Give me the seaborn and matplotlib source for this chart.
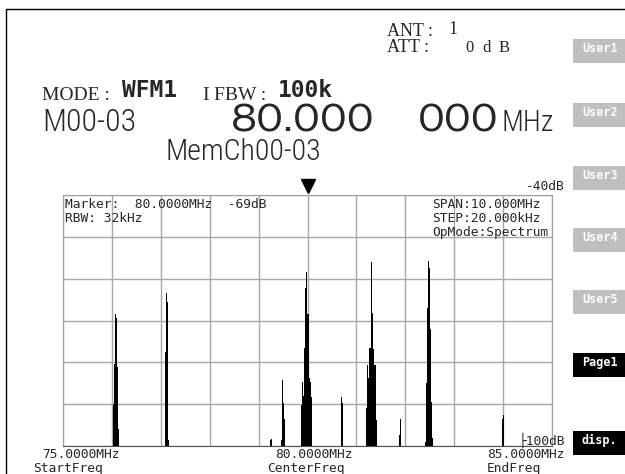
import numpy as np
import matplotlib
matplotlib.use('Agg')
import matplotlib.pyplot as plt
import matplotlib.transforms as mtransforms
import seaborn as sns
from matplotlib import font_manager
from matplotlib.patches import Rectangle
from matplotlib.lines import Line2D

# sweep settings
freq_start = 75.0
freq_stop = 85.0
freq_step = 0.02
ref_level = -40
floor_level = -100
marker_freq = 80.0

# spectrum points above the noise floor (MHz, dB)
peak_freqs = [76.04, 76.06, 76.08, 76.10, 76.12, 76.14,
              77.10, 77.12, 77.14, 77.16,
              79.24, 79.26,
              79.46, 79.48, 79.50, 79.52,
              79.88, 79.90, 79.92, 79.94, 79.96, 79.98, 80.00, 80.02, 80.04, 80.06, 80.08,
              80.70, 80.72,
              81.20, 81.22, 81.24, 81.26, 81.28, 81.30, 81.32, 81.34, 81.36, 81.38, 81.40, 81.42,
              81.88, 81.90,
              82.42, 82.44, 82.46, 82.48, 82.50, 82.52, 82.54, 82.56,
              83.98, 84.00]
peak_levels = [-90, -80.5, -68.5, -69.5, -81, -96,
               -77.5, -63.5, -65.5, -98.5,
               -98.5, -98.3,
               -98.5, -84.3, -89.8, -93.5,
               -90.2, -84.8, -88, -76.6, -62.2, -58.3, -68.4, -68.4, -83.7, -84.7, -88.3,
               -88.2, -89.7,
               -90.8, -80.6, -83.7, -76.6, -76.6, -55.9, -68.1, -76.9, -78.6, -80.6, -80.6, -93.8,
               -97.4, -93.6,
               -99, -85, -67.1, -55.8, -57.5, -72, -89.4, -98,
               -93.5, -92.7]

buttons = ['User1', 'User2', 'User3', 'User4', 'User5', 'Page1', 'disp.']
button_tops = [39, 103, 166, 228, 290, 353, 431]
button_fill = ['#bfbfbf'] * 5 + ['black', 'black']

sns.set_style('white')

installed = {f.name for f in font_manager.fontManager.ttflist}


def pick(*names):
    for n in names:
        if n in installed:
            return n
    return 'DejaVu Sans'


narrow = pick('Roboto Condensed', 'Saira Condensed')
wide = pick('Zalando Sans SemiExpanded', 'Zalando Sans Expanded')
serif = pick('Liberation Serif', 'DejaVu Serif')
mono = 'DejaVu Sans Mono'

W, H = 625, 474
fig = plt.figure(figsize=(W / 100, H / 100), dpi=100)


def fx(x):
    return x / W


def fy(y):
    return 1 - y / H


def txt(x, y, s, **kw):
    kw.setdefault('va', 'baseline')
    fig.text(fx(x), fy(y), s, **kw)


def spaced(x, y, s, pitch, **kw):
    for i, ch in enumerate(s):
        fig.text(fx(x + i * pitch), fy(y), ch, ha='center', va='baseline', **kw)


# spectrum panel
ax = fig.add_axes([fx(63), fy(446), fx(552) - fx(63), fy(195) - fy(446)])
n_bins = int(round((freq_stop - freq_start) / freq_step)) + 1
sns.histplot(x=peak_freqs, weights=np.array(peak_levels) - floor_level,
             bins=n_bins, binrange=(freq_start - freq_step / 2, freq_stop + freq_step / 2),
             color='black', alpha=1, linewidth=0, antialiased=False, ax=ax)
ax.set_xlim(freq_start, freq_stop)
ax.set_ylim(0, ref_level - floor_level)
ax.set_xticks(np.arange(freq_start, freq_stop + 0.5, 1))
ax.set_yticks(np.arange(0, ref_level - floor_level + 1, 10))
ax.set(xlabel='', ylabel='')
ax.tick_params(length=0, labelbottom=False, labelleft=False)
ax.grid(True, color='#a8a8a8', lw=1)
ax.set_axisbelow(True)
for side in ['left', 'right', 'top']:
    ax.spines[side].set_color('#a0a0a0')
ax.spines['bottom'].set_color('#505050')

trans = mtransforms.blended_transform_factory(ax.transData, ax.transAxes)
ax.plot([marker_freq], [1.034], marker='v', ms=10, color='black', clip_on=False, transform=trans)

small = dict(family=mono, size=9.3)
txt(65, 208, 'Marker:  80.0000MHz  -69dB', **small)
txt(65, 222, 'RBW: 32kHz', **small)
txt(432, 208, 'SPAN:10.000MHz', **small)
txt(432, 222, 'STEP:20.000kHz', **small)
txt(432, 236, 'OpMode:Spectrum', **small)
txt(565, 190, '-40dB', ha='right', **small)
txt(565, 445, '├100dB', ha='right', **small)
txt(42, 458, '75.0000MHz', **small)
txt(33, 472, 'StartFreq', **small)
txt(275, 458, '80.0000MHz', **small)
txt(267, 472, 'CenterFreq', **small)
txt(487, 458, '85.0000MHz', **small)
txt(487, 472, 'EndFreq', **small)

# header
txt(387, 36, 'ANT :', family=serif, size=13)
txt(448, 34, '1', family=serif, size=13)
txt(387, 52, 'ATT :', family=serif, size=13)
spaced(470, 52, '0dB', 17, family=serif, size=12)
txt(42, 100, 'MODE :', family=serif, size=14)
txt(122, 97, 'WFM1', family=mono, weight='bold', size=16.5)
txt(202, 100, 'I', family=serif, size=14)
txt(214, 100, 'FBW :', family=serif, size=14)
txt(278, 97, '100k', family=mono, weight='bold', size=16.5)
txt(42, 131, 'M00-03', family=narrow, weight=300, size=23)
txt(231, 131, '80.000', family=wide, size=26.5)
txt(418, 131, '000', family=wide, size=26.5)
txt(502, 131, 'MHz', family=narrow, weight=300, size=21)
txt(165, 160, 'MemCh00-03', family=narrow, weight=300, size=21.5)

# screen frame
fig.add_artist(Line2D([fx(6), fx(6)], [fy(H), fy(9)], transform=fig.transFigure, color='black', lw=1))
fig.add_artist(Line2D([fx(6), fx(W)], [fy(9), fy(9)], transform=fig.transFigure, color='black', lw=1))

# soft keys
for label, top, fill in zip(buttons, button_tops, button_fill):
    fig.add_artist(Rectangle((fx(573), fy(top + 24)), fx(W) - fx(573), fy(top) - fy(top + 24),
                             transform=fig.transFigure, color=fill, lw=0))
    txt(582, top + 3, label, va='top', color='white', family=mono, weight='bold', size=8.5)

fig.savefig('out.png', dpi=100)
